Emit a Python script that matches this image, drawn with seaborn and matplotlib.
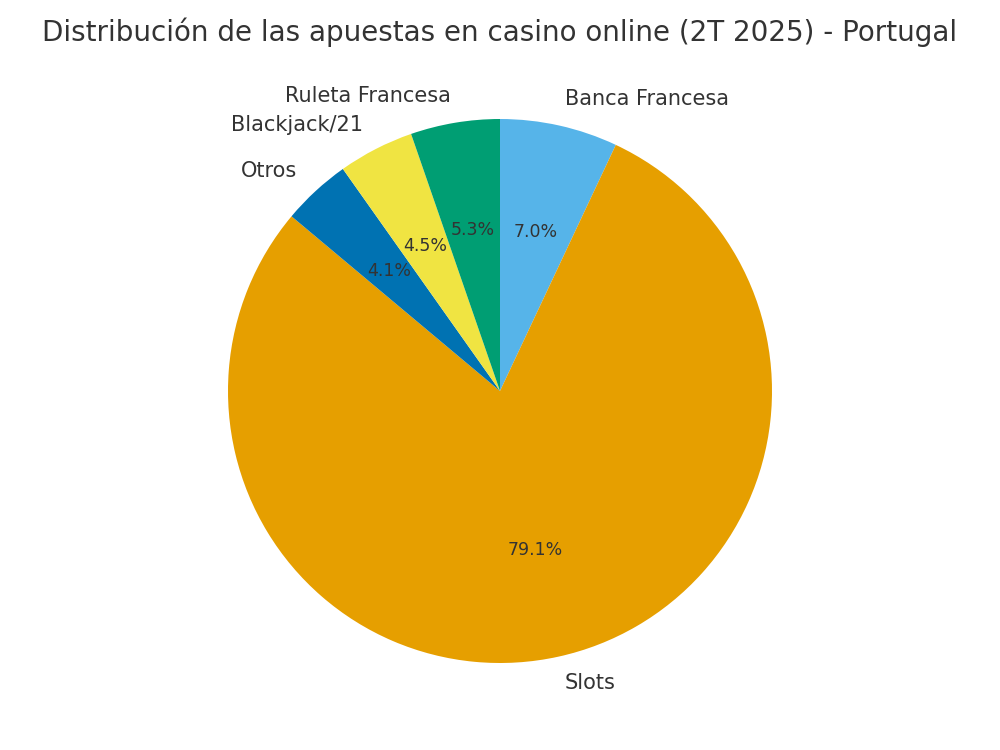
import matplotlib
matplotlib.use("Agg")
import matplotlib.pyplot as plt
import seaborn as sns

# data
categories = ["Banca Francesa", "Slots", "Otros", "Blackjack/21", "Ruleta Francesa"]
shares = [7.0, 79.1, 4.1, 4.5, 5.3]
colors = ["#56B4E9", "#E69F00", "#0072B2", "#F0E442", "#009E73"]

sns.set_style("white")
plt.rcParams["font.family"] = ["DejaVu Sans"]
text_color = "#333333"

fig = plt.figure(figsize=(10, 7.5), dpi=100)
ax = fig.add_axes([0, 0, 1, 1])
wedges, texts, autotexts = ax.pie(
    shares,
    labels=categories,
    colors=colors,
    autopct="%1.1f%%",
    startangle=90,
    counterclock=False,
    wedgeprops={"linewidth": 0},
    textprops={"color": text_color, "fontsize": 15},
)
for t in autotexts:
    t.set_fontsize(12.5)
    t.set_color(text_color)

# pie radius ~272 px, centre at (500, 391) px from top
unit = 272
ax.set_xlim(-500 / unit, 500 / unit)
ax.set_ylim(-359 / unit, 391 / unit)
ax.set_aspect("equal")
ax.axis("off")

fig.text(0.5, 1 - 32 / 750, "Distribución de las apuestas en casino online (2T 2025) - Portugal",
         fontsize=20, color=text_color, ha="center", va="center")
plt.savefig("out.png", dpi=100)
